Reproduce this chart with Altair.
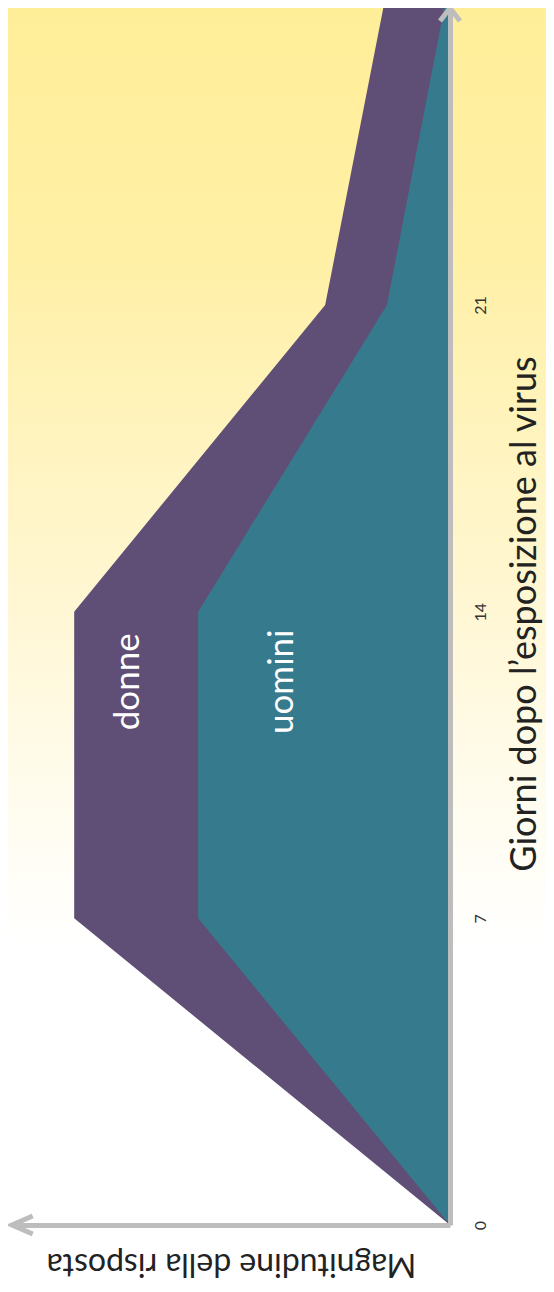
import altair as alt
import pandas as pd

# ---- data ----
days = [0, 7, 14, 21, 28]
donne = [0, 8.58, 8.58, 2.85, 1.48]
uomini = [0, 5.75, 5.75, 1.44, 0.09]
tick_days = [0, 7, 14, 21]
label_text = ["donne", "uomini"]
label_mag = [7.35, 3.84]
label_day = [12.4, 12.4]

MAG_MAX = 10
DAY_MAX = 27.78

W, H = 438, 1217
PURPLE = "#5F4E75"
TEAL = "#367B8D"
GRAY = "#BDBDBD"

df_d = pd.DataFrame({"day": days, "mag": donne})
df_u = pd.DataFrame({"day": days, "mag": uomini})
df_lab = pd.DataFrame({"day": label_day, "mag": label_mag, "txt": label_text})
df_arrow_up = pd.DataFrame({"day": [DAY_MAX], "mag": [0]})
df_arrow_left = pd.DataFrame({"day": [0], "mag": [MAG_MAX]})

x_enc = alt.X(
    "mag:Q",
    stack=None,
    scale=alt.Scale(domain=[0, MAG_MAX], reverse=True, nice=False, zero=True),
    axis=alt.Axis(
        orient="bottom", labels=False, ticks=False, grid=False, zindex=2,
        domain=True, domainColor=GRAY, domainWidth=5,
        title="Magnitudine della risposta", titleAngle=180, titleFontSize=32,
        titleFont="Lato", titleFontWeight="normal", titleColor="#222222",
        titleAlign="center", titleBaseline="alphabetic",
        titleX=W / 2, titleY=28,
    ),
)
y_enc = alt.Y(
    "day:Q",
    scale=alt.Scale(domain=[0, DAY_MAX], nice=False, zero=True),
    axis=alt.Axis(
        orient="right", values=tick_days, ticks=False, grid=False, zindex=2,
        domain=True, domainColor=GRAY, domainWidth=5,
        labelAngle=270, labelFontSize=16, labelFont="Lato", labelColor="#333333",
        labelAlign="center", labelBaseline="middle", labelPadding=30,
        title="Giorni dopo l\u2019esposizione al virus", titleAngle=270,
        titleFontSize=36, titleFont="Lato", titleFontWeight="normal",
        titleColor="#222222", titleAlign="center", titleBaseline="alphabetic",
        titleX=85, titleY=H / 2 - 3,
    ),
)

gradient = {
    "gradient": "linear", "x1": 0, "y1": 0, "x2": 0, "y2": 1,
    "stops": [
        {"offset": 0.0, "color": "#FFEE98"},
        {"offset": 0.2, "color": "#FFF0A6"},
        {"offset": 0.35, "color": "#FFF4C0"},
        {"offset": 0.48, "color": "#FFF7D5"},
        {"offset": 0.62, "color": "#FFFCEE"},
        {"offset": 0.74, "color": "#FFFFFF"},
    ],
}

bg = alt.Chart(pd.DataFrame({"a": [0]})).mark_rect(fill=gradient).encode(
    x=alt.value(-4), x2=alt.value(W + 96), y=alt.value(-8), y2=alt.value(H + 59)
)

area_d = alt.Chart(df_d).mark_area(orient="horizontal", color=PURPLE, opacity=1, clip=True).encode(
    x=x_enc, y=y_enc
)
area_u = alt.Chart(df_u).mark_area(orient="horizontal", color=TEAL, opacity=1, clip=True).encode(
    x=x_enc, y=y_enc
)

arrow_up = alt.Chart(df_arrow_up).mark_point(
    shape="M-1,1.3L0,0L1,1.3", size=400, filled=False, stroke=GRAY,
    strokeWidth=5, opacity=1
).encode(x=x_enc, y=y_enc)

arrow_left = alt.Chart(df_arrow_left).mark_point(
    shape="M2.3,-1L0,0L2.3,1", size=324, filled=False, stroke=GRAY,
    strokeWidth=5, opacity=1
).encode(x=x_enc, y=y_enc)

labels = alt.Chart(df_lab).mark_text(
    angle=270, fontSize=35, font="Lato", color="white", align="center", baseline="middle"
).encode(x=x_enc, y=y_enc, text="txt:N")

chart = alt.layer(bg, area_d, area_u, arrow_up, arrow_left, labels).properties(
    width=W, height=H,
    autosize=alt.AutoSizeParams(type="none"),
    padding={"left": 4, "top": 0, "right": 96, "bottom": 59},
    background="white",
).configure_view(stroke=None).configure(font="Lato")

chart.save("out.html", embed_options={"renderer": "svg", "actions": False})
